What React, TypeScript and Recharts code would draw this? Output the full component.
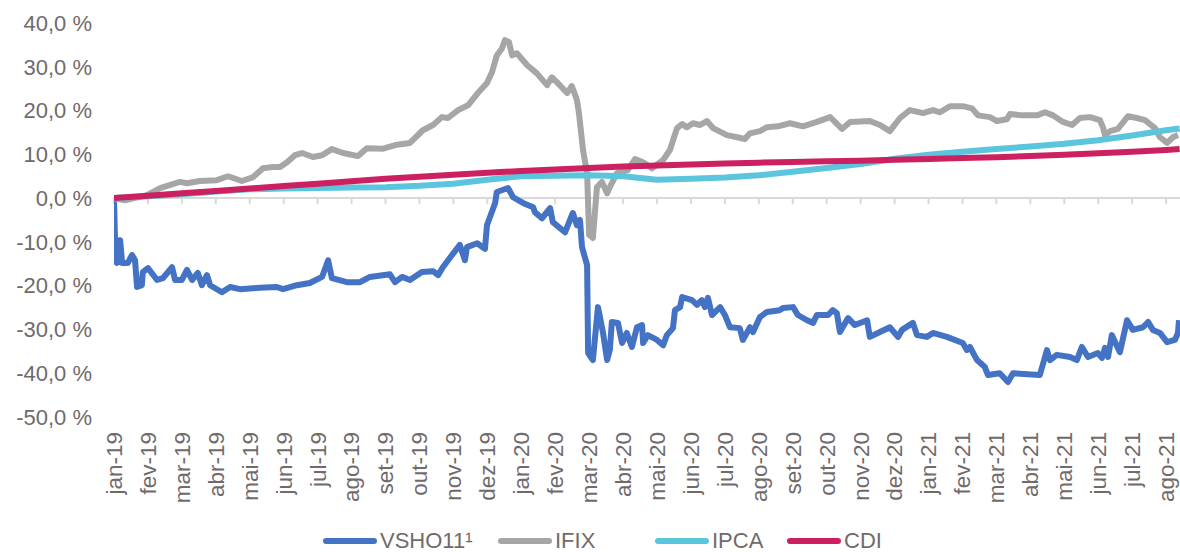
import {
  Legend,
  Line,
  LineChart,
  ReferenceLine,
  XAxis,
  YAxis,
} from "recharts";

// x positions are month offsets from jan-19 (0 = jan-19, 1 = fev-19, ...)
const months = [
  "jan-19", "fev-19", "mar-19", "abr-19", "mai-19", "jun-19", "jul-19", "ago-19",
  "set-19", "out-19", "nov-19", "dez-19", "jan-20", "fev-20", "mar-20", "abr-20",
  "mai-20", "jun-20", "jul-20", "ago-20", "set-20", "out-20", "nov-20", "dez-20",
  "jan-21", "fev-21", "mar-21", "abr-21", "mai-21", "jun-21", "jul-21", "ago-21",
];

const yTicks = [-50, -40, -30, -20, -10, 0, 10, 20, 30, 40];

const vsho11: [number, number][] = [
  [0, 0], [0.03, -9.6], [0.09, -14.8], [0.18, -9.6], [0.24, -14.8], [0.41, -14.8],
  [0.53, -13.0], [0.62, -14.2], [0.68, -20.3], [0.82, -19.9], [0.85, -16.9], [1.0, -16.0],
  [1.27, -18.7], [1.44, -18.3], [1.71, -15.8], [1.8, -18.7], [2.0, -18.7], [2.15, -16.4],
  [2.3, -18.7], [2.47, -17.1], [2.59, -19.9], [2.74, -17.6], [2.83, -19.9], [3.18, -21.5],
  [3.42, -20.3], [3.71, -20.8], [4.3, -20.5], [4.8, -20.3], [4.98, -20.8], [5.39, -19.9],
  [5.77, -19.4], [6.13, -18.0], [6.31, -14.2], [6.42, -18.3], [6.86, -19.2], [7.25, -19.2],
  [7.54, -18.0], [8.13, -17.4], [8.28, -19.2], [8.49, -18.0], [8.72, -18.7], [9.07, -16.9],
  [9.4, -16.7], [9.55, -17.6], [9.69, -15.8], [9.96, -13.0], [10.19, -10.7], [10.34, -14.2],
  [10.4, -11.2], [10.7, -10.3], [10.93, -11.6], [10.99, -6.2], [11.23, -1.1], [11.28, 1.4],
  [11.61, 2.3], [11.76, 0.2], [12.05, -1.1], [12.35, -2.1], [12.4, -3.2], [12.61, -4.6],
  [12.85, -2.3], [12.93, -5.5], [13.29, -7.8], [13.52, -3.4], [13.64, -6.2], [13.73, -5.0],
  [13.79, -11.2], [13.94, -15.3], [13.97, -35.4], [14.11, -37.0], [14.26, -24.9], [14.41, -30.8],
  [14.53, -37.0], [14.61, -34.7], [14.67, -28.3], [14.85, -28.5], [14.97, -33.1], [15.11, -30.8],
  [15.26, -34.0], [15.41, -29.5], [15.56, -29.0], [15.59, -33.1], [15.73, -31.3], [16.0, -32.4],
  [16.18, -33.6], [16.29, -31.3], [16.47, -29.7], [16.53, -25.6], [16.68, -24.9], [16.74, -22.6],
  [17.03, -23.3], [17.18, -24.4], [17.32, -23.3], [17.41, -24.9], [17.5, -22.8], [17.62, -26.7],
  [17.86, -24.9], [18.0, -26.7], [18.15, -29.5], [18.44, -29.7], [18.53, -32.4], [18.74, -29.5],
  [18.83, -30.6], [19.03, -27.2], [19.24, -26.0], [19.62, -25.6], [19.71, -25.1], [20.01, -24.9],
  [20.15, -26.7], [20.42, -27.9], [20.6, -28.5], [20.71, -26.7], [21.04, -26.7], [21.18, -25.6],
  [21.3, -26.3], [21.39, -30.6], [21.63, -27.4], [21.83, -29.0], [22.19, -27.9], [22.27, -31.7],
  [22.57, -30.6], [22.86, -29.5], [23.1, -31.7], [23.22, -30.1], [23.54, -28.5], [23.66, -31.3],
  [23.95, -31.7], [24.13, -30.8], [24.54, -31.7], [25.01, -33.1], [25.13, -34.7], [25.22, -34.0],
  [25.43, -37.0], [25.66, -38.6], [25.75, -40.4], [26.1, -40.0], [26.34, -42.0], [26.49, -40.0],
  [27.28, -40.4], [27.49, -34.7], [27.58, -37.0], [27.78, -35.8], [28.17, -36.3], [28.37, -37.0],
  [28.52, -34.0], [28.7, -36.3], [28.99, -35.4], [29.11, -36.5], [29.2, -34.2], [29.29, -36.3],
  [29.4, -31.3], [29.64, -35.2], [29.85, -27.9], [30.02, -30.1], [30.32, -29.5], [30.47, -28.3],
  [30.61, -30.1], [30.82, -30.8], [31.03, -32.9], [31.26, -32.4], [31.35, -30.8], [31.38, -27.9],
];

const ifix: [number, number][] = [
  [0, 0], [0.32, -0.5], [0.97, 0.7], [1.36, 2.3], [1.94, 3.7], [2.15, 3.4], [2.53, 3.9],
  [3.03, 4.1], [3.36, 5.0], [3.77, 3.9], [4.1, 4.8], [4.39, 6.8], [4.69, 7.1], [4.89, 7.1],
  [5.1, 8.2], [5.33, 9.8], [5.54, 10.3], [5.86, 9.4], [6.13, 9.8], [6.42, 11.2], [6.75, 10.3],
  [7.19, 9.6], [7.45, 11.4], [7.93, 11.3], [8.34, 12.2], [8.72, 12.6], [9.1, 15.5], [9.4, 16.7],
  [9.66, 18.5], [9.84, 18.3], [10.14, 20.1], [10.43, 21.2], [10.72, 24.0], [10.99, 26.3],
  [11.14, 28.8], [11.28, 32.6], [11.43, 34.2], [11.52, 36.1], [11.64, 35.6], [11.73, 32.6],
  [11.87, 33.1], [12.17, 30.4], [12.46, 28.5], [12.76, 25.8], [12.9, 27.6], [13.05, 26.5],
  [13.35, 24.0], [13.49, 25.6], [13.64, 22.4], [13.7, 19.4], [13.82, 11.0], [13.94, 5.7],
  [14.0, -8.4], [14.11, -9.1], [14.23, 2.5], [14.38, 3.7], [14.53, 1.1], [14.61, 2.5],
  [14.82, 5.7], [15.14, 6.4], [15.35, 8.9], [15.59, 8.2], [15.85, 6.8], [16.18, 8.7],
  [16.38, 11.0], [16.59, 16.0], [16.74, 16.9], [16.88, 16.2], [17.06, 17.1], [17.27, 16.7],
  [17.47, 17.6], [17.65, 16.0], [18.06, 14.4], [18.36, 13.9], [18.59, 13.5], [18.74, 14.8],
  [19.03, 15.3], [19.24, 16.2], [19.56, 16.4], [19.92, 17.1], [20.3, 16.4], [20.71, 17.4],
  [21.1, 18.5], [21.45, 15.8], [21.69, 17.4], [22.27, 17.6], [22.57, 16.7], [22.86, 15.3],
  [23.16, 18.3], [23.45, 20.1], [23.84, 19.4], [24.13, 20.1], [24.34, 19.6], [24.63, 21.0],
  [25.01, 21.0], [25.28, 20.5], [25.46, 18.9], [25.81, 18.5], [26.02, 17.6], [26.31, 18.0],
  [26.4, 19.2], [26.78, 18.9], [27.2, 18.9], [27.43, 19.6], [27.67, 18.9], [27.96, 17.4],
  [28.23, 16.7], [28.46, 18.3], [28.76, 18.5], [29.05, 17.8], [29.14, 16.2], [29.2, 14.4],
  [29.35, 15.3], [29.58, 15.8], [29.88, 18.7], [30.14, 18.3], [30.38, 17.8], [30.67, 16.0],
  [30.82, 13.9], [31.03, 12.6], [31.2, 13.9], [31.35, 14.4],
];

const ipca: [number, number][] = [
  [0, 0], [1, 0.4], [2, 0.9], [3, 1.5], [4, 2.0], [5, 2.2], [6, 2.3], [7, 2.4], [8, 2.5],
  [9, 2.8], [10, 3.3], [11, 4.2], [12, 5.0], [13, 5.1], [14, 5.2], [15, 5.0], [16, 4.2],
  [17, 4.4], [18, 4.7], [19, 5.2], [20, 6.0], [21, 6.9], [22, 7.8], [23, 9.0], [24, 9.9],
  [25, 10.6], [26, 11.2], [27, 11.8], [28, 12.4], [29, 13.2], [30, 14.3], [31, 15.5], [31.4, 15.9],
];

const cdi: [number, number][] = [
  [0, 0], [1, 0.55], [2, 1.1], [3, 1.65], [4, 2.2], [5, 2.75], [6, 3.3], [7, 3.85], [8, 4.4],
  [9, 4.9], [10, 5.35], [11, 5.8], [12, 6.2], [13, 6.55], [14, 6.9], [15, 7.2], [16, 7.45],
  [17, 7.7], [18, 7.9], [19, 8.1], [20, 8.25], [21, 8.4], [22, 8.55], [23, 8.75], [24, 8.95],
  [25, 9.15], [26, 9.35], [27, 9.6], [28, 9.9], [29, 10.25], [30, 10.6], [31, 11.0], [31.4, 11.2],
];

const series = [
  { name: "VSHO11¹", color: "#4472C4", points: vsho11, width: 175 },
  { name: "IFIX", color: "#A6A6A6", points: ifix, width: 157 },
  { name: "IPCA", color: "#5BC5DE", points: ipca, width: 132 },
  { name: "CDI", color: "#CC2060", points: cdi, width: 100 },
];

const FONT = '"Liberation Sans", Arial, sans-serif';
const TEXT = "#716a6b";

const fmtPct = (v: number) => v.toFixed(1).replace(".", ",") + " %";

function MonthTick({ x, y, payload }: any) {
  return (
    <text
      x={x}
      y={y}
      transform={`rotate(-90 ${x} ${y})`}
      textAnchor="end"
      dy="0.35em"
      fill={TEXT}
      fontSize={22.5}
      fontFamily={FONT}
    >
      {months[payload.value]}
    </text>
  );
}

function ChartLegend() {
  return (
    <div
      style={{
        display: "flex",
        alignItems: "center",
        paddingLeft: 323,
        paddingTop: 17,
        height: 23,
        fontFamily: FONT,
        fontSize: 22,
        color: TEXT,
      }}
    >
      {series.map((s) => (
        <div key={s.name} style={{ display: "flex", alignItems: "center", width: s.width }}>
          <svg width={54} height={8}>
            <line x1={3} y1={4} x2={51} y2={4} stroke={s.color} strokeWidth={6} strokeLinecap="round" />
          </svg>
          <span style={{ marginLeft: 3, whiteSpace: "nowrap" }}>{s.name}</span>
        </div>
      ))}
    </div>
  );
}

export default function App() {
  return (
    <div style={{ position: "absolute", left: 0, top: 0, background: "#fff" }}>
      <LineChart width={1180} height={552} margin={{ top: 23, right: 0, left: 0, bottom: 0 }}>
        <XAxis
          type="number"
          dataKey="t"
          domain={[0, 31.41]}
          ticks={months.map((_, i) => i)}
          allowDataOverflow
          axisLine={false}
          tickLine={false}
          tickSize={0}
          tickMargin={15}
          height={95}
          interval={0}
          tick={<MonthTick />}
        />
        <YAxis
          type="number"
          domain={[-50, 40]}
          ticks={yTicks}
          width={114}
          axisLine={false}
          tickLine={false}
          tickSize={0}
          tickMargin={22}
          tickFormatter={fmtPct}
          tick={{ fill: TEXT, fontSize: 22, fontFamily: FONT }}
        />
        <ReferenceLine y={0} stroke="#D9D9D9" strokeWidth={2} />
        {months.map((m, i) => (
          <ReferenceLine
            key={m}
            segment={[{ x: i, y: 0 }, { x: i, y: -1.4 }]}
            stroke="#D9D9D9"
            strokeWidth={2}
          />
        ))}
        {series.map((s) => (
          <Line
            key={s.name}
            data={s.points.map(([t, v]) => ({ t, v }))}
            dataKey="v"
            name={s.name}
            type="linear"
            stroke={s.color}
            strokeWidth={6}
            strokeLinejoin="round"
            dot={false}
            activeDot={false}
            isAnimationActive={false}
          />
        ))}
        <Legend verticalAlign="bottom" content={<ChartLegend />} wrapperStyle={{ left: 0, width: 1180 }} />
      </LineChart>
    </div>
  );
}
